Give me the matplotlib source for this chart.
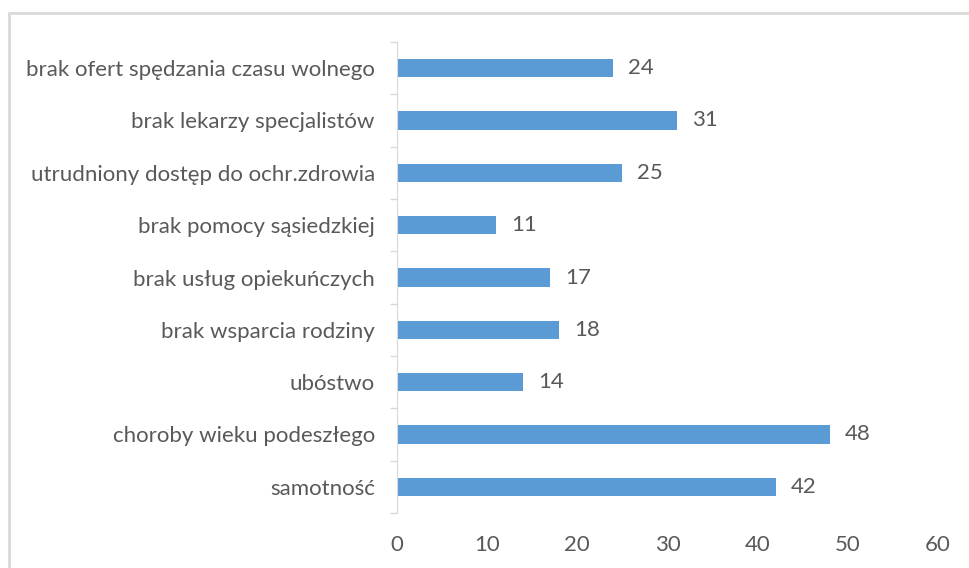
import matplotlib.pyplot as plt
from matplotlib.patches import Rectangle
import numpy as np

# categories listed from top to bottom, as in the picture
categories = [
    "brak ofert spędzania czasu wolnego",
    "brak lekarzy specjalistów",
    "utrudniony dostęp do ochr.zdrowia",
    "brak pomocy sąsiedzkiej",
    "brak usług opiekuńczych",
    "brak wsparcia rodziny",
    "ubóstwo",
    "choroby wieku podeszłego",
    "samotność",
]
values = [24, 31, 25, 11, 17, 18, 14, 48, 42]
x_ticks = [0, 10, 20, 30, 40, 50, 60]

text_col = "#595959"
bar_col = "#5B9BD5"
line_col = "#D9D9D9"
fs = 16

plt.rcParams['font.family'] = ['Lato', 'DejaVu Sans']

fig = plt.figure(figsize=(9.7, 5.68), dpi=100)
# light chart border, cut off on the right and bottom
fig.patches.append(Rectangle((9 / 970, -0.1), 1.2, 1 - 13 / 568 + 0.1,
                             transform=fig.transFigure, fill=False,
                             edgecolor=line_col, linewidth=2))

ax = fig.add_axes([397 / 970, 1 - 513 / 568, (938 - 397) / 970, (513 - 42) / 568])

y = np.arange(len(categories))
ax.barh(y, values, height=0.35, color=bar_col)
ax.set_ylim(len(categories) - 0.5, -0.5)
ax.set_xlim(0, 60)

for yi, v in zip(y, values):
    ax.annotate(str(v), (v, yi), xytext=(15, 0), textcoords='offset pixels',
                va='center', ha='left', fontsize=fs, color=text_col)

ax.set_yticks(y)
ax.set_yticklabels(categories, fontsize=fs, color=text_col)
ax.set_yticks(np.arange(len(categories) + 1) - 0.5, minor=True)
ax.tick_params(axis='y', which='major', length=0, pad=16)
ax.tick_params(axis='y', which='minor', length=5, color=line_col, width=1)

ax.set_xticks(x_ticks)
ax.tick_params(axis='x', length=0, pad=16, labelsize=fs, labelcolor=text_col)

for side in ['top', 'right', 'bottom']:
    ax.spines[side].set_visible(False)
ax.spines['left'].set_color(line_col)

fig.savefig("out.png", dpi=100)
